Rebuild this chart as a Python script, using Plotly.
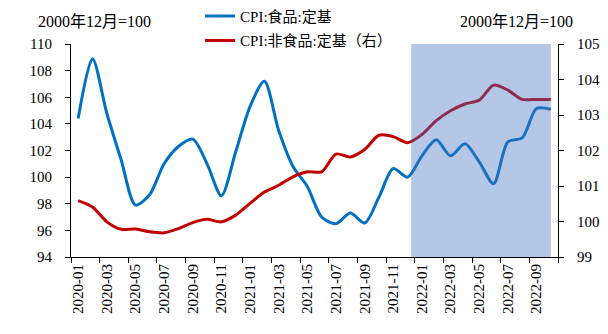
import plotly.graph_objects as go

months = [f"{y}-{m:02d}" for y in (2020, 2021, 2022) for m in range(1, 13)][:34]

food = [104.4, 108.9, 104.8, 101.3, 97.9, 98.7, 101.0, 102.3, 102.85, 101.0,
        98.6, 101.9, 105.3, 107.2, 103.5, 100.8, 99.3, 97.0, 96.5, 97.3,
        96.55, 98.5, 100.65, 100.0, 101.6, 102.8, 101.6, 102.5, 101.15, 99.5,
        102.65, 102.95, 105.15, 105.1]

nonfood = [100.59, 100.41, 99.99, 99.78, 99.79, 99.71, 99.68, 99.80, 99.97, 100.06,
           99.99, 100.18, 100.51, 100.83, 101.02, 101.26, 101.4, 101.4, 101.9, 101.82,
           102.03, 102.43, 102.39, 102.22, 102.45, 102.84, 103.12, 103.31, 103.42, 103.84,
           103.70, 103.44, 103.44, 103.44]

food_name = "CPI:食品:定基"
nonfood_name = "CPI:非食品:定基（右）"
unit_label = "2000年12月=100"

shade_start, shade_end = 23.25, 33.0

FONT = "Liberation Serif, Noto Sans CJK SC, serif"

fig = go.Figure()
fig.add_trace(go.Scatter(x=months, y=food, name=food_name, mode="lines",
                         line=dict(color="#0070C0", width=3, shape="spline", smoothing=0.8),
                         legend="legend"))
fig.add_trace(go.Scatter(x=months, y=nonfood, name=nonfood_name, mode="lines",
                         line=dict(color="#C00000", width=3, shape="spline", smoothing=0.8),
                         yaxis="y2", legend="legend2"))

fig.add_shape(type="rect", xref="x", yref="paper", x0=shade_start, x1=shade_end,
              y0=0, y1=1, fillcolor="#4472C4", opacity=0.4, line_width=0, layer="above")

axis_common = dict(showline=True, linecolor="#000000", linewidth=1, ticks="outside",
                   ticklen=5, tickcolor="#000000", showgrid=False, zeroline=False,
                   tickfont=dict(family=FONT, size=15, color="#000000"))

fig.update_layout(
    width=608, height=334,
    margin=dict(l=71, r=50, t=44, b=77, autoexpand=False),
    plot_bgcolor="white", paper_bgcolor="white",
    font=dict(family=FONT, size=15, color="#000000"),
    xaxis=dict(type="category", range=[-0.5, 33.5], tickson="boundaries", dtick=2, tick0=0,
               tickangle=-90, automargin=False, **axis_common),
    yaxis=dict(range=[94, 110], dtick=2, ticklabelstandoff=10, automargin=False, **axis_common),
    yaxis2=dict(range=[99, 105], dtick=1, overlaying="y", side="right",
                ticklabelstandoff=10, automargin=False, **axis_common),
    legend=dict(x=0.265, y=1.13, xanchor="left", yanchor="middle", bgcolor="rgba(0,0,0,0)",
                font=dict(family=FONT, size=15), borderwidth=0),
    legend2=dict(x=0.265, y=1.015, xanchor="left", yanchor="middle", bgcolor="rgba(0,0,0,0)",
                 font=dict(family=FONT, size=15), borderwidth=0),
    showlegend=True,
    annotations=[
        dict(text=unit_label, xref="paper", yref="paper", x=-0.072, y=1.106,
             xanchor="left", yanchor="middle", showarrow=False,
             font=dict(family=FONT, size=16)),
        dict(text=unit_label, xref="paper", yref="paper", x=1.035, y=1.106,
             xanchor="right", yanchor="middle", showarrow=False,
             font=dict(family=FONT, size=16)),
    ],
)

fig.write_html("out.html")
